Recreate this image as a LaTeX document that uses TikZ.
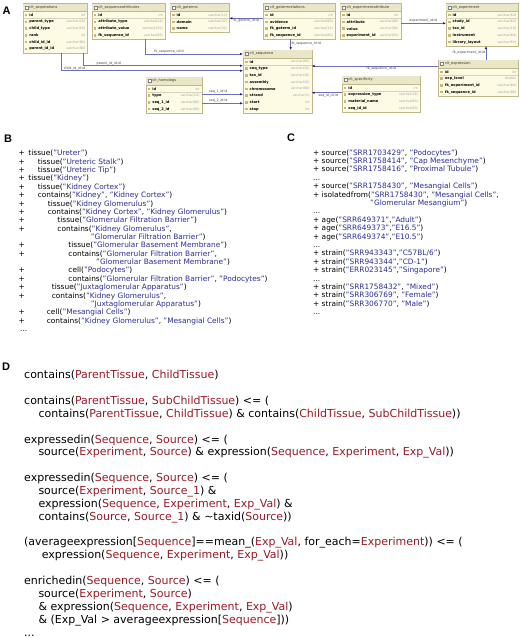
\documentclass[tikz,border=0pt]{standalone}
\usepackage{fontspec}
\setmainfont{DejaVu Sans}
\newfontfamily\labfont{Liberation Sans}
\usetikzlibrary{arrows.meta}
\definecolor{strcol}{RGB}{45,45,145}
\definecolor{parcol}{RGB}{150,28,40}
\definecolor{tabfill}{RGB}{253,251,228}
\definecolor{hdrfill}{RGB}{234,231,200}
\definecolor{tabborder}{RGB}{190,184,140}
\definecolor{linecol}{RGB}{110,110,185}
\definecolor{headcol}{RGB}{30,30,110}
\definecolor{typecol}{RGB}{160,160,160}
\definecolor{iconcol}{RGB}{200,185,120}
\newcommand{\qs}[1]{\textcolor{strcol}{"#1"}}
\newcommand{\pv}[1]{\textcolor{parcol}{#1}}
\tikzset{
 tabbox/.style={draw=tabborder, fill=tabfill, line width=0.4pt, inner sep=0pt, outer sep=0pt},
 tabtitle/.style={font=\fontsize{3.6}{4}\selectfont, inner sep=0pt, text=black!80},
 colname/.style={font=\fontsize{3.6}{4}\selectfont\bfseries, inner sep=0pt},
 coltype/.style={font=\fontsize{3.2}{4}\selectfont, text=typecol, inner sep=0pt},
 fk/.style={draw=linecol, line width=0.5pt, -{Latex[length=3pt,width=2.4pt,color=headcol]}},
 fklbl/.style={font=\fontsize{3.3}{4}\selectfont, text=black!75, inner sep=0.6pt},
 btxt/.style={font=\fontsize{7.4}{8}\selectfont, inner sep=0pt, anchor=base west},
 ctxt/.style={font=\fontsize{7.4}{8}\selectfont, inner sep=0pt, anchor=base west},
 dtxt/.style={font=\fontsize{11}{12}\selectfont, inner sep=0pt, anchor=base west},
 panel/.style={font=\labfont\bfseries\fontsize{11}{11}\selectfont, inner sep=0pt},
}
\newcommand{\dbtab}[7]{%
 \pgfmathsetmacro{\tabw}{#4-#2}%
 \pgfmathsetmacro{\tabh}{9+#5*6.75}%
 \node[tabbox, anchor=north west, minimum width=\tabw pt, minimum height=\tabh pt] (#1) at (#2,#3) {};
 \fill[hdrfill] ([shift={(0.2pt,-0.2pt)}]#1.north west) rectangle ([shift={(-0.2pt,-8pt)}]#1.north east);
 \draw[tabborder, line width=0.3pt] ([yshift=-8pt]#1.north west) -- ([yshift=-8pt]#1.north east);
 \draw[tabborder!60, line width=0.25pt] ([yshift=-15.25pt]#1.north west) -- ([yshift=-15.25pt]#1.north east);
 \draw[gray, fill=white, line width=0.25pt] ([shift={(2pt,-2.6pt)}]#1.north west) rectangle ([shift={(5pt,-5.4pt)}]#1.north west);
 \node[tabtitle, anchor=west] (#1-t) at ([shift={(6.5pt,-4pt)}]#1.north west) {#6};
 \foreach \cn/\ct [count=\i] in {#7}{%
   \pgfmathsetmacro{\ry}{-(8.5+(\i-0.5)*6.75)}%
   \fill[iconcol] ([shift={(2pt,\ry pt+1.3pt)}]#1.north west) rectangle ([shift={(4.6pt,\ry pt-1.3pt)}]#1.north west);
   \node[colname, anchor=west] (#1-\i) at ([shift={(6.5pt,\ry pt)}]#1.north west) {\cn};
   \node[coltype, anchor=east] (#1-\i-t) at ([shift={(-2pt,\ry pt)}]#1.north east) {\ct};
 }%
}
% B line: name, k, indent x, plus?, content
\newcommand{\bline}[5]{%
 \pgfmathsetmacro{\by}{155.8+8.37*#2}%
 \pgfmathsetmacro{\bind}{#3-18.5}%
 \node[btxt] (#1) at (18.5,\by) {\ifx#4p\rlap{+}\fi\hspace*{\bind pt}#5};
}
\newcommand{\cfline}[4]{%
 \pgfmathsetmacro{\cy}{155+8.4*#2}%
 \node[ctxt] (#1) at (#3,\cy) {#4};
}
\newcommand{\dline}[4]{%
 \pgfmathsetmacro{\dy}{378.8+12.86*#2}%
 \node[dtxt] (#1) at (#3,\dy) {#4};
}
\begin{document}
\begin{tikzpicture}[x=1pt,y=-1pt]
\useasboundingbox[fill=white] (0,0) rectangle (520,638);
% ---------- Panel labels
\node[panel] (lA) at (6.5,11) {A};
\node[panel] (lB) at (8,139) {B};
\node[panel] (lC) at (291,138) {C};
\node[panel] (lD) at (6,367) {D};
% ---------- Panel A tables
\dbtab{seqrel}{22.7}{3.3}{87.3}{6}{clt\_seqrelations}{id/int, parent\_type/varchar(16), child\_type/varchar(16), rank/int, child\_id\_id/varchar(80), parent\_id\_id/varchar(80)}
\dbtab{seqattr}{91.7}{3.3}{165}{4}{clt\_sequenceattributes}{id/int, attribute\_type/varchar(24), attribute\_value/varchar(320), fk\_sequence\_id/varchar(80)}
\dbtab{goterms}{170}{3.3}{229.3}{3}{clt\_goterms}{id/varchar(12), domain/varchar(32), name/varchar(32)}
\dbtab{gotermrel}{263.3}{3.3}{335}{4}{clt\_gotermrelations}{id/int, evidence/varchar(80), fk\_goterm\_id/varchar(12), fk\_sequence\_id/varchar(80)}
\dbtab{expattr}{340}{3.3}{400.7}{4}{clt\_experimentattribute}{id/int, attribute/varchar(80), value/varchar(80), experiment\_id/varchar(64)}
\dbtab{experiment}{446}{3.3}{518.5}{5}{clt\_experiment}{id/varchar(64), study\_id/varchar(64), tax\_id/varchar(16), instrument/varchar(64), library\_layout/varchar(64)}
\dbtab{seq}{243}{50}{311.7}{8}{clt\_sequence}{id/varchar(80), seq\_type/varchar(16), tax\_id/varchar(16), assembly/varchar(16), chromosome/varchar(80), strand/varchar(1), start/int, stop/int}
\dbtab{homologs}{145.7}{77}{201.7}{4}{clt\_homologs}{id/int, type/varchar(24), seq\_1\_id/varchar(80), seq\_2\_id/varchar(80)}
\dbtab{expression}{438.3}{60}{518.3}{4}{clt\_expression}{id/int, exp\_level/double, fk\_experiment\_id/varchar(64), fk\_sequence\_id/varchar(80)}
\dbtab{spec}{341.7}{76}{420}{4}{clt\_specificity}{id/int, expression\_type/varchar(16), material\_name/varchar(80), seq\_id\_id/varchar(80)}
% ---------- connectors
\coordinate (a1) at ([xshift=54pt]seqattr.south west);
\coordinate (a1e) at ([yshift=-4pt]seq.north west);
\draw[fk] (a1) |- node[fklbl, above, pos=0.62] {fk\_sequence\_id:id} (a1e);
\coordinate (a2) at ([xshift=60.6pt]seqrel.south west);
\coordinate (a2e) at ([yshift=-15.7pt]seq.north west);
\draw[fk] (a2) |- node[fklbl, above, pos=0.58] {parent\_id\_id:id} (a2e);
\coordinate (a3) at ([xshift=39pt]seqrel.south west);
\coordinate (a3e) at ([yshift=-20.7pt]seq.north west);
\draw[fk] (a3) |- node[fklbl, above, pos=0.535] {child\_id\_id:id} (a3e);
\coordinate (a4) at ([yshift=-15pt]gotermrel.north west);
\draw[fk] (a4) -- node[fklbl, below] {fk\_goterm\_id:id} (a4 -| goterms.east);
\coordinate (a5) at ([xshift=27.4pt]gotermrel.south west);
\draw[fk] (a5) -- node[fklbl, right, pos=0.45] {fk\_sequence\_id:id} (a5 |- seq.north);
\coordinate (a6) at ([yshift=-20pt]expattr.north east);
\draw[fk] (a6) -- node[fklbl, above] {experiment\_id:id} (a6 -| experiment.west);
\coordinate (a7) at ([xshift=47.7pt]expression.north west);
\draw[fk] (a7) -- node[fklbl, left, pos=0.5] {fk\_experiment\_id:id} (a7 |- experiment.south);
\coordinate (a8) at ([yshift=-6pt]expression.north west);
\draw[fk] (a8) -- node[fklbl, below, pos=0.45] {fk\_sequence\_id:id} (a8 -| seq.east);
\coordinate (a9) at ([yshift=-16.7pt]spec.north west);
\draw[fk] (a9) -- node[fklbl, below, pos=0.45] {seq\_id\_id:id} (a9 -| seq.east);
\coordinate (a10) at ([yshift=-17.3pt]homologs.north east);
\draw[fk] (a10) -- node[fklbl, above, pos=0.4] {seq\_1\_id:id} (a10 -| seq.west);
\coordinate (a11) at ([yshift=-26.3pt]homologs.north east);
\draw[fk] (a11) -- node[fklbl, above, pos=0.4] {seq\_2\_id:id} (a11 -| seq.west);
% ---------- Panel B
\bline{b0}{0}{28.3}{p}{tissue(\qs{Ureter})}
\bline{b1}{1}{37.7}{p}{tissue(\qs{Ureteric Stalk})}
\bline{b2}{2}{37.7}{p}{tissue(\qs{Ureteric Tip})}
\bline{b3}{3}{28.3}{p}{tissue(\qs{Kidney})}
\bline{b4}{4}{37.7}{p}{tissue(\qs{Kidney Cortex})}
\bline{b5}{5}{37.7}{p}{contains(\qs{Kidney}, \qs{Kidney Cortex})}
\bline{b6}{6}{47.7}{p}{tissue(\qs{Kidney Glomerulus})}
\bline{b7}{7}{47.7}{p}{contains(\qs{Kidney Cortex}, \qs{Kidney Glomerulus})}
\bline{b8}{8}{57.3}{p}{tissue(\qs{Glomerular Filtration Barrier})}
\bline{b9}{9}{57.3}{p}{contains(\qs{Kidney Glomerulus},}
\bline{b10}{10}{90.7}{n}{\qs{Glomerular Filtration Barrier})}
\bline{b11}{11}{68.3}{p}{tissue(\qs{Glomerular Basement Membrane})}
\bline{b12}{12}{68.3}{p}{contains(\qs{Glomerular Filtration Barrier},}
\bline{b13}{13}{96}{n}{\qs{Glomerular Basement Membrane})}
\bline{b14}{14}{68.3}{p}{cell(\qs{Podocytes})}
\bline{b15}{15}{68.3}{p}{contains(\qs{Glomerular Filtration Barrier}, \qs{Podocytes})}
\bline{b16}{16}{51.7}{p}{tissue(\qs{Juxtaglomerular Apparatus})}
\bline{b17}{17}{51.7}{p}{contains(\qs{Kidney Glomerulus},}
\bline{b18}{18}{90.7}{n}{\qs{Juxtaglomerular Apparatus})}
\bline{b19}{19}{46.7}{p}{cell(\qs{Mesangial Cells})}
\bline{b20}{20}{46.7}{p}{contains(\qs{Kidney Glomerulus}, \qs{Mesangial Cells})}
\bline{b21}{21}{20}{n}{...}
% ---------- Panel C
\cfline{c0}{0}{313}{+ source(\qs{SRR1703429}, \qs{Podocytes})}
\cfline{c1}{1}{313}{+ source(\qs{SRR1758414}, \qs{Cap Mesenchyme})}
\cfline{c2}{2}{313}{+ source(\qs{SRR1758416}, \qs{Proximal Tubule})}
\cfline{c3}{3}{313}{...}
\cfline{c4}{4}{313}{+ source(\qs{SRR1758430}, \qs{Mesangial Cells})}
\cfline{c5}{5}{313}{+ isolatedfrom(\qs{SRR1758430}, \qs{Mesangial Cells},}
\cfline{c6}{6}{370}{\qs{Glomerular Mesangium})}
\cfline{c7}{7}{313}{...}
\cfline{c8}{8}{313}{+ age(\qs{SRR649371},\qs{Adult})}
\cfline{c9}{9}{313}{+ age(\qs{SRR649373},\qs{E16.5})}
\cfline{c10}{10}{313}{+ age(\qs{SRR649374},\qs{E10.5})}
\cfline{c11}{11}{313}{...}
\cfline{c12}{12}{313}{+ strain(\qs{SRR943343},\qs{C57BL/6})}
\cfline{c13}{13}{313}{+ strain(\qs{SRR943344},\qs{CD-1})}
\cfline{c14}{14}{313}{+ strain(\qs{ERR023145},\qs{Singapore})}
\cfline{c15}{15}{313}{...}
\cfline{c16}{16}{313}{+ strain(\qs{SRR1758432}, \qs{Mixed})}
\cfline{c17}{17}{313}{+ strain(\qs{SRR306769}, \qs{Female})}
\cfline{c18}{18}{313}{+ strain(\qs{SRR306770}, \qs{Male})}
\cfline{c19}{19}{313}{...}
% ---------- Panel D
\dline{d0}{0}{24}{contains(\pv{ParentTissue}, \pv{ChildTissue})}
\dline{d2}{2}{24}{contains(\pv{ParentTissue}, \pv{SubChildTissue}) <= (}
\dline{d3}{3}{38.3}{contains(\pv{ParentTissue}, \pv{ChildTissue}) \& contains(\pv{ChildTissue}, \pv{SubChildTissue}))}
\dline{d5}{5}{24}{expressedin(\pv{Sequence}, \pv{Source}) <= (}
\dline{d6}{6}{38.3}{source(\pv{Experiment}, \pv{Source}) \& expression(\pv{Sequence}, \pv{Experiment}, \pv{Exp\_Val}))}
\dline{d8}{8}{24}{expressedin(\pv{Sequence}, \pv{Source}) <= (}
\dline{d9}{9}{38.3}{source(\pv{Experiment}, \pv{Source\_1}) \&}
\dline{d10}{10}{38.3}{expression(\pv{Sequence}, \pv{Experiment}, \pv{Exp\_Val}) \&}
\dline{d11}{11}{38.3}{contains(\pv{Source}, \pv{Source\_1}) \& \textasciitilde taxid(\pv{Source}))}
\dline{d13}{13}{24}{(averageexpression[\pv{Sequence}]==mean\_(\pv{Exp\_Val}, for\_each=\pv{Experiment})) <= (}
\dline{d14}{14}{41.7}{expression(\pv{Sequence}, \pv{Experiment}, \pv{Exp\_Val}))}
\dline{d16}{16}{24}{enrichedin(\pv{Sequence}, \pv{Source}) <= (}
\dline{d17}{17}{38.3}{source(\pv{Experiment}, \pv{Source})}
\dline{d18}{18}{38.3}{\& expression(\pv{Sequence}, \pv{Experiment}, \pv{Exp\_Val})}
\dline{d19}{19}{38.3}{\& (Exp\_Val > averageexpression[\pv{Sequence}]))}
\dline{d20}{20}{24}{...}
\end{tikzpicture}
\end{document}
